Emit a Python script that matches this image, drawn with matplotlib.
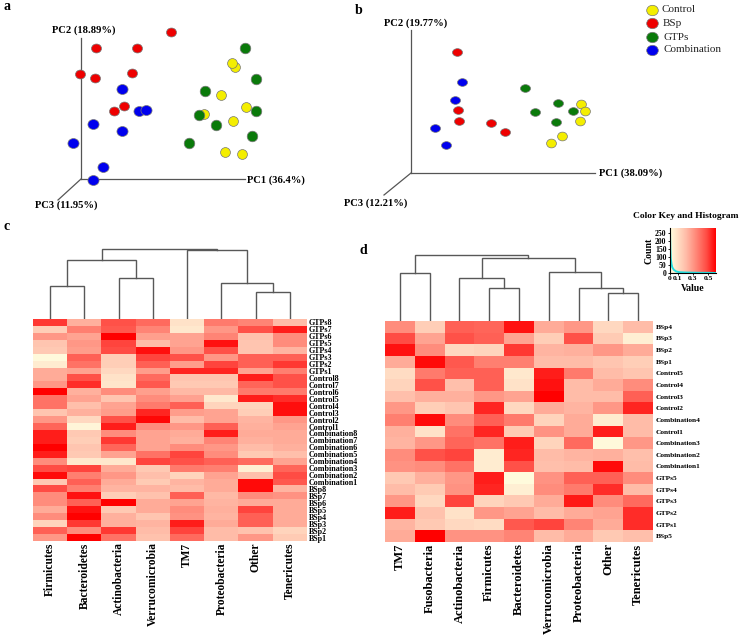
import numpy as np
import matplotlib
matplotlib.use('Agg')
import matplotlib.pyplot as plt
from matplotlib.colors import LinearSegmentedColormap
from matplotlib.path import Path
from matplotlib.transforms import Affine2D

plt.rcParams['font.family'] = ['Liberation Serif', 'DejaVu Serif']

W, H = 742, 638

# PCA a, no scale in the picture so values are read as page pixels
a_red = [(171, 32), (96, 48), (137, 48), (80, 74), (95, 78), (132, 73), (124, 106), (114, 111)]
a_blue = [(122, 89), (139, 111), (146, 110), (93, 124), (122, 131), (73, 143), (103, 167), (93, 180)]
a_green = [(245, 48), (256, 79), (205, 91), (256, 111), (199, 115), (216, 125), (252, 136), (189, 143)]
a_yellow = [(235, 67), (232, 63), (221, 95), (246, 107), (204, 114), (233, 121), (225, 152), (242, 154)]

# PCA b
b_red = [(457, 52), (458, 110), (459, 121), (491, 123), (505, 132)]
b_blue = [(462, 82), (455, 100), (435, 128), (446, 145)]
b_green = [(525, 88), (558, 103), (573, 111), (535, 112), (556, 122)]
b_yellow = [(581, 104), (585, 111), (580, 121), (562, 136), (551, 143)]

legend_names = ['Control', 'BSp', 'GTPs', 'Combination']
legend_colors = ['#f4ee00', '#ee0000', '#0a7a0a', '#0000ee']

# heatmap c
c_cols = ['Firmicutes', 'Bacteroidetes', 'Actinobacteria', 'Verrucomicrobia', 'TM7',
          'Proteobacteria', 'Other', 'Tenericutes']
c_rows = ['GTPs8', 'GTPs7', 'GTPs6', 'GTPs5', 'GTPs4', 'GTPs3', 'GTPs2', 'GTPs1',
          'Control8', 'Control7', 'Control6', 'Control5', 'Control4', 'Control3', 'Control2', 'Control1',
          'Combination8', 'Combination7', 'Combination6', 'Combination5',
          'Combination4', 'Combination3', 'Combination2', 'Combination1',
          'BSp8', 'BSp7', 'BSp6', 'BSp5', 'BSp4', 'BSp3', 'BSp2', 'BSp1']
c_vals = [
    [.85, .40, .78, .68, .15, .62, .58, .35],
    [.25, .60, .75, .58, .12, .50, .78, .92],
    [.50, .45, 1.0, .47, .45, .58, .32, .55],
    [.30, .50, .82, .35, .45, .95, .30, .55],
    [.28, .48, .80, .96, .50, .78, .30, .38],
    [.03, .72, .25, .82, .78, .50, .72, .72],
    [.10, .65, .25, .72, .48, .82, .72, .85],
    [.42, .45, .20, .48, .90, .90, .45, .60],
    [.42, .78, .15, .68, .30, .30, .92, .78],
    [.50, .88, .13, .75, .28, .28, .70, .78],
    [1.0, .40, .55, .47, .36, .36, .62, .62],
    [.65, .45, .30, .55, .46, .12, .92, .88],
    [.65, .33, .45, .62, .72, .22, .22, .96],
    [.30, .40, .48, .90, .48, .45, .25, .96],
    [.50, .20, .78, .98, .35, .45, .38, .50],
    [.70, .05, .92, .55, .50, .72, .40, .45],
    [.92, .28, .55, .45, .42, .92, .42, .42],
    [.92, .25, .85, .45, .40, .58, .40, .42],
    [1.0, .30, .70, .45, .55, .50, .35, .40],
    [.92, .28, .45, .65, .82, .55, .28, .33],
    [.55, .12, .12, .82, .78, .72, .68, .45],
    [.80, .82, .42, .28, .62, .60, .08, .70],
    [.97, .60, .50, .33, .22, .45, .33, .80],
    [.28, .72, .42, .27, .38, .42, .97, .75],
    [.80, .60, .38, .38, .35, .42, .97, .38],
    [.55, .95, .25, .32, .72, .36, .55, .52],
    [.55, .72, 1.0, .42, .45, .38, .42, .42],
    [.42, .95, .28, .42, .55, .40, .82, .42],
    [.55, 1.0, .40, .30, .52, .38, .72, .42],
    [.22, .85, .40, .38, .92, .42, .72, .42],
    [.72, .55, .85, .35, .82, .35, .32, .22],
    [.50, 1.0, .65, .32, .68, .35, .50, .27],
]
# merges: left node, right node, height (nodes above the leaf count are earlier merges)
c_tree = [(0, 1, 32.7), (2, 3, 40.7), (8, 9, 58.7), (6, 7, 26.7), (5, 11, 36.3), (4, 12, 68.7), (10, 13, 70)]

# heatmap d
d_cols = ['TM7', 'Fusobacteria', 'Actinobacteria', 'Firmicutes', 'Bacteroidetes',
          'Verrucomicrobia', 'Proteobacteria', 'Other', 'Tenericutes']
d_rows = ['BSp4', 'BSp3', 'BSp2', 'BSp1', 'Control5', 'Control4', 'Control3', 'Control2',
          'Combination4', 'Control1', 'Combination3', 'Combination2', 'Combination1',
          'GTPs5', 'GTPs4', 'GTPs3', 'GTPs2', 'GTPs1', 'BSp5']
d_vals = [
    [.55, .25, .72, .70, .95, .42, .50, .20, .35],
    [.80, .45, .78, .72, .45, .25, .78, .27, .08],
    [.95, .55, .20, .22, .85, .38, .40, .50, .42],
    [.42, .97, .75, .60, .60, .35, .35, .30, .25],
    [.18, .62, .72, .72, .12, .92, .62, .35, .30],
    [.22, .78, .33, .72, .15, .95, .35, .42, .55],
    [.33, .40, .40, .50, .45, 1.0, .35, .35, .72],
    [.50, .25, .30, .90, .20, .42, .38, .50, .90],
    [.60, .97, .55, .72, .62, .22, .42, .10, .35],
    [.40, .15, .65, .90, .27, .52, .42, .92, .35],
    [.38, .50, .70, .65, .92, .22, .68, .03, .50],
    [.55, .78, .82, .10, .90, .35, .38, .40, .33],
    [.52, .55, .65, .10, .78, .33, .35, .97, .35],
    [.28, .40, .50, .92, .02, .52, .72, .72, .55],
    [.35, .27, .52, .90, .08, .55, .62, .88, .35],
    [.50, .20, .82, .22, .28, .42, .93, .55, .68],
    [.92, .32, .15, .50, .45, .35, .42, .45, .88],
    [.38, .28, .20, .18, .75, .82, .58, .42, .88],
    [.42, 1.0, .52, .52, .58, .35, .42, .28, .33],
]
d_tree = [(0, 1, 48.3), (3, 4, 33.3), (2, 10, 43.3), (7, 8, 28), (6, 12, 33), (5, 13, 49.3),
          (11, 14, 63.3), (9, 15, 65.7)]

# colour key histogram
hist_x = [0, .005, .01, .02, .03, .05, .08, .12, .2, .3, .4, .5, .59]
hist_y = [265, 150, 90, 55, 35, 20, 10, 5, 3, 2, 1, 1, 0]

cmap = LinearSegmentedColormap.from_list('key', [(0, '#ffffe0'), (.15, '#ffe2c8'), (.35, '#ffbca8'),
                                                 (.55, '#ff8c7c'), (.8, '#ff4c44'), (1, '#ff0000')])

fig = plt.figure(figsize=(W / 100, H / 100), dpi=100)


def axes_px(x0, y0, x1, y1):
    return fig.add_axes([x0 / W, 1 - y1 / H, (x1 - x0) / W, (y1 - y0) / H])


def draw_tree(ax, n, merges):
    # walk the merges and join the child nodes with a bracket
    xs = {i: i for i in range(n)}
    hs = {i: 0 for i in range(n)}
    for k, (l, r, h) in enumerate(merges):
        ax.plot([xs[l], xs[l], xs[r], xs[r]], [hs[l], h, h, hs[r]], color='#585858', lw=1.0,
                solid_joinstyle='miter')
        xs[n + k] = (xs[l] + xs[r]) / 2
        hs[n + k] = h
    ax.set_xlim(-.5, n - .5)
    ax.set_ylim(0, 80)
    ax.axis('off')


def heatmap(box, vals, rows, cols, merges, row_size, col_size, row_pad):
    x0, y0, x1, y1 = box
    ax = axes_px(x0, y0, x1, y1)
    ax.imshow(np.array(vals), cmap=cmap, vmin=0, vmax=1, aspect='auto', interpolation='nearest')
    ax.yaxis.tick_right()
    ax.set_yticks(range(len(rows)), rows, fontsize=row_size, fontweight='bold')
    ax.set_xticks(range(len(cols)), cols, fontsize=col_size, fontweight='bold', rotation=90)
    ax.tick_params(axis='y', length=0, pad=row_pad)
    ax.tick_params(axis='x', length=0, pad=1)
    for s in ax.spines.values():
        s.set_visible(False)
    draw_tree(axes_px(x0, y0 - 80, x1, y0), len(cols), merges)


heatmap((33, 319, 307, 541), c_vals, c_rows, c_cols, c_tree, 5.8, 8.3, 1.5)
heatmap((385, 321, 653, 542), d_vals, d_rows, d_cols, d_tree, 5.3, 9, 2)

# colour key
key = axes_px(670, 228, 716, 273)
key.imshow(np.linspace(0, 1, 200)[None, :], cmap=cmap, aspect='auto', extent=(0, .6, 0, 280))
key.plot(hist_x, hist_y, color='#22e0e0', lw=1.4)
key.set_xlim(0, .6)
key.set_ylim(0, 280)
key.set_xticks([0, .1, .3, .5], ['0', '0.1', '0.3', '0.5'], fontsize=5.4, fontweight='bold')
key.set_yticks([0, 50, 100, 150, 200, 250], ['0', '50', '100', '150', '200', '250'],
               fontsize=5.6, fontweight='bold')
key.tick_params(length=1.5, width=.6, pad=1)
key.spines['top'].set_visible(False)
key.spines['right'].set_visible(False)
key.set_xlabel('Value', fontsize=7, fontweight='bold', labelpad=2)
key.set_ylabel('Count', fontsize=7, fontweight='bold', labelpad=1)

# page layer for the two PCA plots and the captions
page = fig.add_axes([0, 0, 1, 1])
page.set_xlim(0, W)
page.set_ylim(H, 0)
page.axis('off')
page.patch.set_alpha(0)

wide = Path.unit_circle().transformed(Affine2D().scale(1.12, 1))
flat = Path.unit_circle().transformed(Affine2D().scale(1.3, 1))


def spheres(points, color, size, marker='o'):
    xs, ys = zip(*points)
    page.scatter(xs, ys, s=size, color=color, edgecolors='#777777', linewidths=.5, marker=marker, zorder=3)


spheres(a_yellow, legend_colors[0], 50)
spheres(a_green, legend_colors[2], 58)
spheres(a_red, legend_colors[1], 52, wide)
spheres(a_blue, legend_colors[3], 64, wide)
spheres(b_yellow, legend_colors[0], 50, wide)
spheres(b_green, legend_colors[2], 52, flat)
spheres(b_red, legend_colors[1], 52, flat)
spheres(b_blue, legend_colors[3], 52, flat)

for x, y, x2, y2, x3, y3, x4, y4 in [(81, 179, 81, 38, 245, 179, 58, 200),
                                     (411, 173, 411, 30, 595, 173, 384, 195)]:
    for ex, ey in [(x2, y2), (x3, y3), (x4, y4)]:
        page.plot([x, ex], [y, ey], color='#555555', lw=.9)

for x, y, s in [(52, 30, 'PC2 (18.89%)'), (247, 180, 'PC1 (36.4%)'), (35, 205, 'PC3 (11.95%)'),
                (384, 23, 'PC2 (19.77%)'), (599, 173, 'PC1 (38.09%)'), (344, 203, 'PC3 (12.21%)')]:
    page.text(x, y, s, fontsize=7.6, fontweight='bold', va='center', ha='left')

for x, y, s in [(3, 7, 'a'), (355, 10, 'b'), (4, 227, 'c'), (359, 250, 'd')]:
    page.text(x, y, s, fontsize=10, fontweight='bold', va='center', ha='left')

for i, (name, color) in enumerate(zip(legend_names, legend_colors)):
    y = [10, 23, 37, 50][i]
    page.scatter([652], [y], s=70, color=color, edgecolors='#777777', linewidths=.5, marker=wide, zorder=3)
    page.text(661 if i == 0 else 663, y, name, fontsize=8, va='center', ha='left', color='#222222')

page.text(686, 216, 'Color Key and Histogram', fontsize=6.8, fontweight='bold', ha='center', va='center')

fig.savefig('out.png', dpi=100)
